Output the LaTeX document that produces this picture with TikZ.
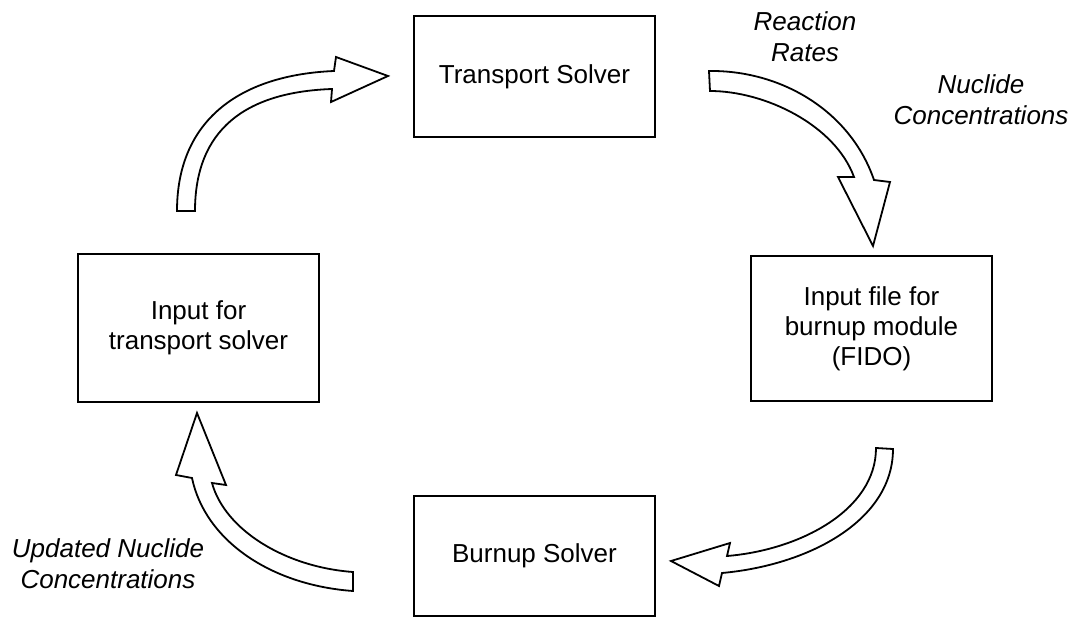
\documentclass[tikz,border=0pt]{standalone}
\usepackage{fontspec}
\setmainfont{Liberation Sans}
\begin{document}
\begin{tikzpicture}[x=1pt,y=-1pt,
  box/.style={draw=black, line width=2.2pt, fill=white, align=center, inner sep=2pt,
    font=\fontsize{26}{30}\selectfont, minimum width=241pt},
  lbl/.style={align=center, font=\fontsize{26}{31}\selectfont\itshape},
  blockarrow/.style={draw=black, line width=1.8pt, fill=white, line join=miter}]
\fill[white] (0,0) rectangle (1079,618);
\useasboundingbox (0,0) rectangle (1079,618);

% boxes
\node[box, minimum height=121pt] (ts) at (534.5,76.5) {Transport Solver};
\node[box, minimum height=120pt] (bs) at (534.5,556) {Burnup Solver};
\node[box, minimum height=148pt] (it) at (198.5,328) {Input for\\transport solver};
\node[box, minimum height=145pt] (ib) at (871.5,328.5) {Input file for\\burnup module\\(FIDO)};

% labels
\node[lbl] (rr) at (805,37) {Reaction\\Rates};
\node[lbl] (nc) at (981,100) {Nuclide\\Concentrations};
\node[lbl] (unc) at (108,564) {Updated Nuclide\\Concentrations};

% arrow: input for transport -> transport solver
\draw[blockarrow] (177,211) -- (195,211)
  .. controls (195,130) and (245,92) .. (332,89)
  -- (331,102) -- (388,76) -- (336,57) -- (334,71)
  .. controls (240,75) and (177,120) .. (177,211) -- cycle;

% arrow: transport solver -> input file for burnup
\draw[blockarrow] (709,71)
  .. controls (780,70) and (850,110) .. (874,180)
  -- (890,182) -- (873,246) -- (838,177) -- (854,177)
  .. controls (835,125) and (765,91) .. (710,91) -- cycle;

% arrow: input file for burnup -> burnup solver
\draw[blockarrow] (876,448) -- (893,449)
  .. controls (893,520) and (810,565) .. (722,573)
  -- (719,586) -- (671,561) -- (730,543) -- (727,556)
  .. controls (800,550) and (876,510) .. (876,448) -- cycle;

% arrow: burnup solver -> input for transport
\draw[blockarrow] (353,591)
  .. controls (270,585) and (205,540) .. (192,478)
  -- (176,475) -- (197,413) -- (226,485) -- (212,483)
  .. controls (225,530) and (285,567) .. (353,572) -- cycle;
\end{tikzpicture}
\end{document}
